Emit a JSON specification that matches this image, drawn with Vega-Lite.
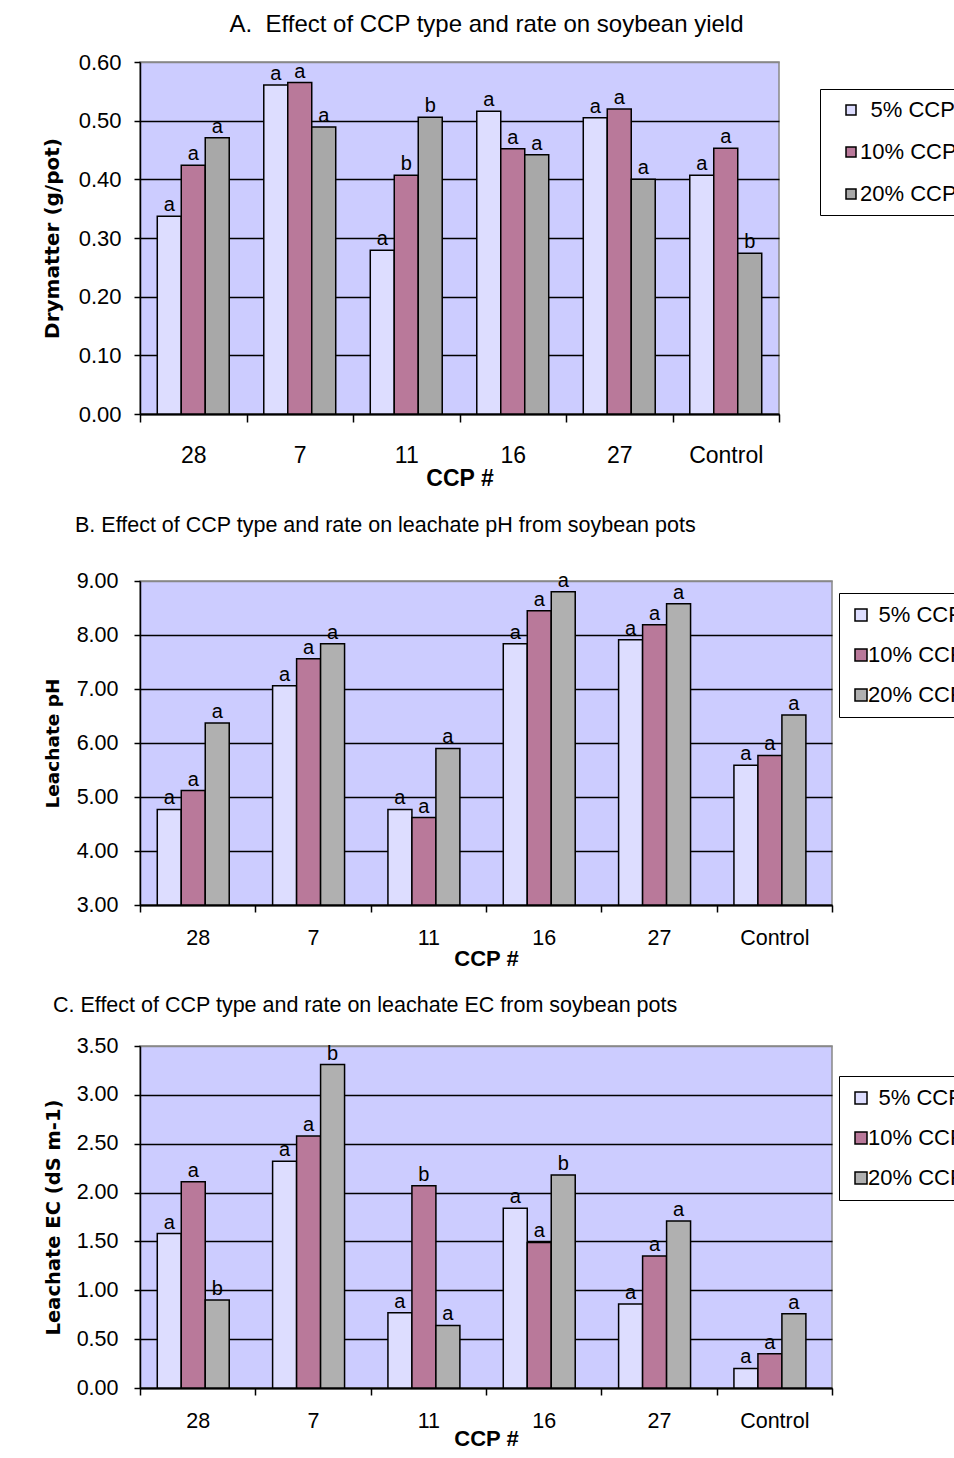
{
  "$schema": "https://vega.github.io/schema/vega-lite/v6.json",
  "background": "white",
  "padding": {"left": 41, "top": 12, "right": 0, "bottom": 0},
  "config": {
    "font": "Liberation Sans",
    "view": {"fill": "#CCCCFF", "stroke": "#888888", "strokeWidth": 1.5},
    "axis": {"labelFont": "Liberation Sans", "labelColor": "black", "domainColor": "black", "tickColor": "black", "titleColor": "black"},
    "bar": {"stroke": "black", "strokeWidth": 1.5},
    "legend": {"labelFont": "Liberation Sans", "labelColor": "black"}
  },
  "resolve": {"scale": {"color": "independent"}, "legend": {"color": "independent"}},
  "columns": 1,
  "align": "none",
  "spacing": 22,
  "datasets": {
    "A": [
      {"ccp": "28", "rate": "5% CCP", "value": 0.337, "sig": "a"},
      {"ccp": "28", "rate": "10% CCP", "value": 0.424, "sig": "a"},
      {"ccp": "28", "rate": "20% CCP", "value": 0.471, "sig": "a"},
      {"ccp": "7", "rate": "5% CCP", "value": 0.561, "sig": "a"},
      {"ccp": "7", "rate": "10% CCP", "value": 0.565, "sig": "a"},
      {"ccp": "7", "rate": "20% CCP", "value": 0.489, "sig": "a"},
      {"ccp": "11", "rate": "5% CCP", "value": 0.279, "sig": "a"},
      {"ccp": "11", "rate": "10% CCP", "value": 0.407, "sig": "b"},
      {"ccp": "11", "rate": "20% CCP", "value": 0.506, "sig": "b"},
      {"ccp": "16", "rate": "5% CCP", "value": 0.516, "sig": "a"},
      {"ccp": "16", "rate": "10% CCP", "value": 0.452, "sig": "a"},
      {"ccp": "16", "rate": "20% CCP", "value": 0.442, "sig": "a"},
      {"ccp": "27", "rate": "5% CCP", "value": 0.505, "sig": "a"},
      {"ccp": "27", "rate": "10% CCP", "value": 0.52, "sig": "a"},
      {"ccp": "27", "rate": "20% CCP", "value": 0.4, "sig": "a"},
      {"ccp": "Control", "rate": "5% CCP", "value": 0.407, "sig": "a"},
      {"ccp": "Control", "rate": "10% CCP", "value": 0.453, "sig": "a"},
      {"ccp": "Control", "rate": "20% CCP", "value": 0.274, "sig": "b"}
    ],
    "B": [
      {"ccp": "28", "rate": "5% CCP", "value": 4.77, "sig": "a"},
      {"ccp": "28", "rate": "10% CCP", "value": 5.12, "sig": "a"},
      {"ccp": "28", "rate": "20% CCP", "value": 6.37, "sig": "a"},
      {"ccp": "7", "rate": "5% CCP", "value": 7.06, "sig": "a"},
      {"ccp": "7", "rate": "10% CCP", "value": 7.56, "sig": "a"},
      {"ccp": "7", "rate": "20% CCP", "value": 7.84, "sig": "a"},
      {"ccp": "11", "rate": "5% CCP", "value": 4.77, "sig": "a"},
      {"ccp": "11", "rate": "10% CCP", "value": 4.62, "sig": "a"},
      {"ccp": "11", "rate": "20% CCP", "value": 5.9, "sig": "a"},
      {"ccp": "16", "rate": "5% CCP", "value": 7.84, "sig": "a"},
      {"ccp": "16", "rate": "10% CCP", "value": 8.45, "sig": "a"},
      {"ccp": "16", "rate": "20% CCP", "value": 8.8, "sig": "a"},
      {"ccp": "27", "rate": "5% CCP", "value": 7.91, "sig": "a"},
      {"ccp": "27", "rate": "10% CCP", "value": 8.19, "sig": "a"},
      {"ccp": "27", "rate": "20% CCP", "value": 8.58, "sig": "a"},
      {"ccp": "Control", "rate": "5% CCP", "value": 5.59, "sig": "a"},
      {"ccp": "Control", "rate": "10% CCP", "value": 5.77, "sig": "a"},
      {"ccp": "Control", "rate": "20% CCP", "value": 6.52, "sig": "a"}
    ],
    "C": [
      {"ccp": "28", "rate": "5% CCP", "value": 1.58, "sig": "a"},
      {"ccp": "28", "rate": "10% CCP", "value": 2.11, "sig": "a"},
      {"ccp": "28", "rate": "20% CCP", "value": 0.9, "sig": "b"},
      {"ccp": "7", "rate": "5% CCP", "value": 2.32, "sig": "a"},
      {"ccp": "7", "rate": "10% CCP", "value": 2.58, "sig": "a"},
      {"ccp": "7", "rate": "20% CCP", "value": 3.31, "sig": "b"},
      {"ccp": "11", "rate": "5% CCP", "value": 0.77, "sig": "a"},
      {"ccp": "11", "rate": "10% CCP", "value": 2.07, "sig": "b"},
      {"ccp": "11", "rate": "20% CCP", "value": 0.64, "sig": "a"},
      {"ccp": "16", "rate": "5% CCP", "value": 1.84, "sig": "a"},
      {"ccp": "16", "rate": "10% CCP", "value": 1.49, "sig": "a"},
      {"ccp": "16", "rate": "20% CCP", "value": 2.18, "sig": "b"},
      {"ccp": "27", "rate": "5% CCP", "value": 0.86, "sig": "a"},
      {"ccp": "27", "rate": "10% CCP", "value": 1.35, "sig": "a"},
      {"ccp": "27", "rate": "20% CCP", "value": 1.71, "sig": "a"},
      {"ccp": "Control", "rate": "5% CCP", "value": 0.2, "sig": "a"},
      {"ccp": "Control", "rate": "10% CCP", "value": 0.35, "sig": "a"},
      {"ccp": "Control", "rate": "20% CCP", "value": 0.76, "sig": "a"}
    ]
  },
  "concat": [
    {
      "width": 639,
      "height": 352,
      "data": {"name": "A"},
      "title": {"text": "A.\u00a0 Effect of CCP type and rate on soybean yield", "font": "Liberation Sans", "fontSize": 24, "fontWeight": "normal", "anchor": "middle", "frame": "group", "dx": 27, "offset": 14, "color": "black"},
      "encoding": {
        "x": {"field": "ccp", "type": "nominal", "sort": ["28", "7", "11", "16", "27", "Control"],
          "scale": {"paddingInner": 0, "paddingOuter": 0},
          "axis": {"title": "CCP #", "titleFontSize": 23, "titleFontWeight": "bold", "titlePadding": 0, "labelAngle": 0, "labelFontSize": 23, "labelPadding": 22, "tickBand": "extent", "tickSize": 8, "tickWidth": 1.5, "domainWidth": 2, "grid": false}},
        "xOffset": {"field": "rate", "sort": ["5% CCP", "10% CCP", "20% CCP"], "scale": {"paddingInner": 0, "paddingOuter": 0.72}},
        "y": {"field": "value", "type": "quantitative", "scale": {"domain": [0, 0.6]},
          "axis": {"title": "Drymatter (g/pot)", "titleFont": "DejaVu Sans", "titleFontSize": 20, "titleFontWeight": "bold", "titlePadding": 16, "format": ".2f", "values": [0, 0.1, 0.2, 0.3, 0.4, 0.5, 0.6], "labelFontSize": 22, "labelPadding": 13, "tickSize": 6, "tickWidth": 1.5, "domainWidth": 1.5, "grid": true, "gridWidth": 1.5, "gridColor": {"condition": {"test": "datum.value >= 0.59", "value": "#888888"}, "value": "black"}}}
      },
      "layer": [
        {"mark": {"type": "bar"},
         "encoding": {"color": {"field": "rate", "type": "nominal", "scale": {"domain": ["5% CCP", "10% CCP", "20% CCP"], "range": ["#DDDDFF", "#B9799A", "#A8A8A8"]},
           "legend": {"title": null, "orient": "none", "legendX": 680, "legendY": 27, "strokeColor": "black", "fillColor": "white", "padding": 10, "symbolType": "square", "symbolSize": 100, "symbolStrokeColor": "black", "symbolStrokeWidth": 1.5, "symbolOffset": 10, "labelFontSize": 22, "labelOffset": -2, "rowPadding": 20, "labelExpr": "(datum.value == '5% CCP' ? '\u200b\u00a0\u2009' : '') + datum.label"}}}},
        {"mark": {"type": "text", "baseline": "bottom", "dy": -1, "fontSize": 20, "color": "black"},
         "encoding": {"text": {"field": "sig"}}}
      ]
    },
    {
      "width": 692,
      "height": 324,
      "data": {"name": "B"},
      "title": {"text": "B. Effect of CCP type and rate on leachate pH from soybean pots", "font": "Liberation Sans", "fontSize": 21.5, "fontWeight": "normal", "anchor": "start", "frame": "group", "dx": -65, "offset": 34, "color": "black"},
      "encoding": {
        "x": {"field": "ccp", "type": "nominal", "sort": ["28", "7", "11", "16", "27", "Control"],
          "scale": {"paddingInner": 0, "paddingOuter": 0},
          "axis": {"title": "CCP #", "titleFontSize": 22, "titleFontWeight": "bold", "titlePadding": 0, "labelAngle": 0, "labelFontSize": 21.5, "labelPadding": 15, "tickBand": "extent", "tickSize": 7, "tickWidth": 1.5, "domainWidth": 2, "grid": false}},
        "xOffset": {"field": "rate", "sort": ["5% CCP", "10% CCP", "20% CCP"], "scale": {"paddingInner": 0, "paddingOuter": 0.69}},
        "y": {"field": "value", "type": "quantitative", "scale": {"domain": [3, 9], "zero": false},
          "axis": {"title": "Leachate pH", "titleFont": "DejaVu Sans", "titleFontSize": 18.5, "titleFontWeight": "bold", "titlePadding": 14, "format": ".2f", "values": [3, 4, 5, 6, 7, 8, 9], "labelFontSize": 21.5, "labelPadding": 16, "tickSize": 6, "tickWidth": 1.5, "domainWidth": 1.5, "grid": true, "gridWidth": 1.5, "gridColor": {"condition": {"test": "datum.value >= 8.9", "value": "#888888"}, "value": "black"}}}
      },
      "layer": [
        {"mark": {"type": "bar"},
         "encoding": {"y2": {"datum": 3},
           "color": {"field": "rate", "type": "nominal", "scale": {"domain": ["5% CCP", "10% CCP", "20% CCP"], "range": ["#DDDDFF", "#B9799A", "#B0B0B0"]},
           "legend": {"title": null, "orient": "none", "legendX": 699, "legendY": 12, "strokeColor": "black", "fillColor": "white", "padding": 11, "symbolType": "square", "symbolSize": 144, "symbolStrokeColor": "black", "symbolStrokeWidth": 1.5, "symbolOffset": 0, "labelFontSize": 22, "labelOffset": -4, "rowPadding": 18, "labelExpr": "(datum.value == '5% CCP' ? '\u200b\u00a0\u2009' : '') + datum.label"}}}},
        {"mark": {"type": "text", "baseline": "bottom", "dy": -1, "fontSize": 20, "color": "black"},
         "encoding": {"text": {"field": "sig"}}}
      ]
    },
    {
      "width": 692,
      "height": 342,
      "data": {"name": "C"},
      "title": {"text": "C. Effect of CCP type and rate on leachate EC from soybean pots", "font": "Liberation Sans", "fontSize": 21.5, "fontWeight": "normal", "anchor": "start", "frame": "group", "dx": -87, "offset": 19, "color": "black"},
      "encoding": {
        "x": {"field": "ccp", "type": "nominal", "sort": ["28", "7", "11", "16", "27", "Control"],
          "scale": {"paddingInner": 0, "paddingOuter": 0},
          "axis": {"title": "CCP #", "titleFontSize": 22, "titleFontWeight": "bold", "titlePadding": -3, "labelAngle": 0, "labelFontSize": 21.5, "labelPadding": 15, "tickBand": "extent", "tickSize": 7, "tickWidth": 1.5, "domainWidth": 2, "grid": false}},
        "xOffset": {"field": "rate", "sort": ["5% CCP", "10% CCP", "20% CCP"], "scale": {"paddingInner": 0, "paddingOuter": 0.69}},
        "y": {"field": "value", "type": "quantitative", "scale": {"domain": [0, 3.5]},
          "axis": {"title": "Leachate EC (dS m-1)", "titleFont": "DejaVu Sans", "titleFontSize": 19.5, "titleFontWeight": "bold", "titlePadding": 13, "format": ".2f", "values": [0, 0.5, 1, 1.5, 2, 2.5, 3, 3.5], "labelFontSize": 21.5, "labelPadding": 16, "tickSize": 6, "tickWidth": 1.5, "domainWidth": 1.5, "grid": true, "gridWidth": 1.5, "gridColor": {"condition": {"test": "datum.value >= 3.4", "value": "#888888"}, "value": "black"}}}
      },
      "layer": [
        {"mark": {"type": "bar"},
         "encoding": {"color": {"field": "rate", "type": "nominal", "scale": {"domain": ["5% CCP", "10% CCP", "20% CCP"], "range": ["#DDDDFF", "#B9799A", "#B0B0B0"]},
           "legend": {"title": null, "orient": "none", "legendX": 699, "legendY": 30, "strokeColor": "black", "fillColor": "white", "padding": 11, "symbolType": "square", "symbolSize": 144, "symbolStrokeColor": "black", "symbolStrokeWidth": 1.5, "symbolOffset": 0, "labelFontSize": 22, "labelOffset": -4, "rowPadding": 18, "labelExpr": "(datum.value == '5% CCP' ? '\u200b\u00a0\u2009' : '') + datum.label"}}}},
        {"mark": {"type": "text", "baseline": "bottom", "dy": -1, "fontSize": 20, "color": "black"},
         "encoding": {"text": {"field": "sig"}}}
      ]
    }
  ]
}
